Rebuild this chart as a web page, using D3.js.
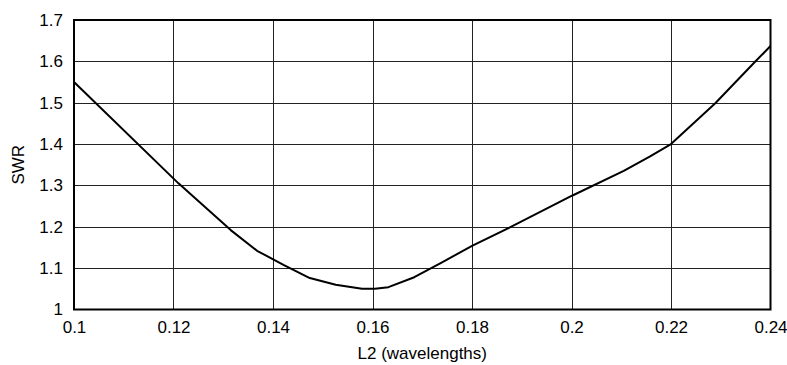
<!DOCTYPE html>
<html>
<head>
<meta charset="utf-8">
<script src="https://cdn.jsdelivr.net/npm/d3@7"></script>
<style>
  html, body { margin: 0; padding: 0; background: #fff; }
  svg { display: block; font-family: "Liberation Sans", Arial, sans-serif; }
</style>
</head>
<body>
<svg id="chart" width="787" height="365"></svg>
<script>
// L2 length (wavelengths) vs. SWR
const lengths = [0.1, 0.121, 0.1315, 0.1368, 0.1421, 0.1474, 0.1526, 0.1579, 0.1605, 0.1632,
                 0.1684, 0.1737, 0.18, 0.1882, 0.2, 0.2105, 0.2158, 0.22, 0.2289, 0.2369, 0.24];
const swr = [1.55, 1.305, 1.192, 1.142, 1.108, 1.076, 1.060, 1.050, 1.050, 1.054,
             1.078, 1.112, 1.154, 1.202, 1.2745, 1.335, 1.37, 1.40, 1.4986, 1.599, 1.637];

const xTicks = [0.1, 0.12, 0.14, 0.16, 0.18, 0.2, 0.22, 0.24];
const yTicks = [1, 1.1, 1.2, 1.3, 1.4, 1.5, 1.6, 1.7];
const xTitle = "L2 (wavelengths)";
const yTitle = "SWR";

const svg = d3.select("#chart");
const plotLeft = 74, plotRight = 770.5, plotTop = 20, plotBottom = 309.5;
const fontSize = 17;

const x = d3.scaleLinear().domain([0.1, 0.24]).range([plotLeft, plotRight]);
const y = d3.scaleLinear().domain([1, 1.7]).range([plotBottom, plotTop]);

// grid
const grid = svg.append("g").attr("stroke", "#222").attr("stroke-width", 1);
grid.selectAll("line.v").data(xTicks.slice(1, -1)).enter().append("line")
  .attr("x1", d => Math.round(x(d)) + 0.5).attr("x2", d => Math.round(x(d)) + 0.5)
  .attr("y1", plotTop).attr("y2", plotBottom);
grid.selectAll("line.h").data(yTicks.slice(1, -1)).enter().append("line")
  .attr("y1", d => Math.round(y(d)) + 0.5).attr("y2", d => Math.round(y(d)) + 0.5)
  .attr("x1", plotLeft).attr("x2", plotRight);

// axes (labels only)
const xAxis = svg.append("g").attr("transform", `translate(0,${plotBottom})`)
  .call(d3.axisBottom(x).tickValues(xTicks).tickSize(0).tickPadding(11.5).tickFormat(d3.format("")));
const yAxis = svg.append("g").attr("transform", `translate(${plotLeft},0)`)
  .call(d3.axisLeft(y).tickValues(yTicks).tickSize(0).tickPadding(11).tickFormat(d3.format("")));
[xAxis, yAxis].forEach(a => {
  a.select(".domain").remove();
  a.selectAll("text").attr("font-size", fontSize).attr("fill", "#000")
    .attr("font-family", "'Liberation Sans', Arial, sans-serif");
});

// frame
svg.append("rect").attr("x", plotLeft).attr("y", plotTop)
  .attr("width", plotRight - plotLeft).attr("height", plotBottom - plotTop)
  .attr("fill", "none").attr("stroke", "#000").attr("stroke-width", 2);

// curve
svg.append("path")
  .datum(lengths.map((d, i) => [d, swr[i]]))
  .attr("fill", "none").attr("stroke", "#000").attr("stroke-width", 2)
  .attr("stroke-linejoin", "round")
  .attr("d", d3.line().x(d => x(d[0])).y(d => y(d[1])));

// titles
svg.append("text").attr("x", (plotLeft + plotRight) / 2).attr("y", 359)
  .attr("text-anchor", "middle").attr("font-size", fontSize).text(xTitle);
svg.append("text").attr("transform", `translate(24,${(plotTop + plotBottom) / 2}) rotate(-90)`)
  .attr("text-anchor", "middle").attr("font-size", fontSize).text(yTitle);
</script>
</body>
</html>
